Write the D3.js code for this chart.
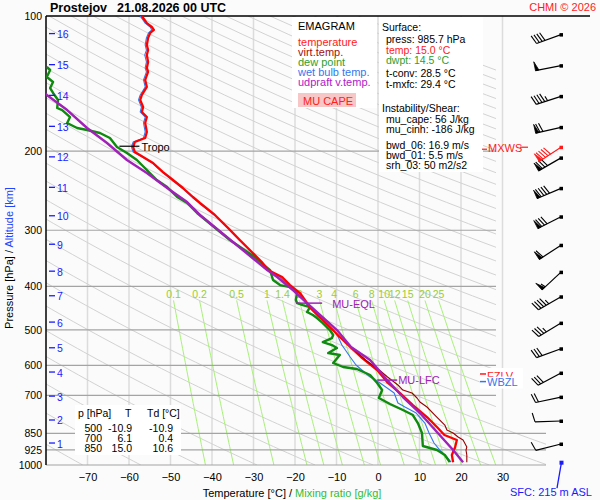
<!DOCTYPE html>
<html><head><meta charset="utf-8">
<script src="https://cdn.jsdelivr.net/npm/d3@7"></script>
<style>
body{margin:0;background:#fbfbfb;}
svg{display:block;font-family:"Liberation Sans",Arial,sans-serif;}
</style></head><body><svg id="c" width="600" height="500"></svg>
<script>
// ---------------- DATA ----------------
const tempP = [100,103.7,105.8,107.4,109.1,111.9,116,119.1,122.1,126.6,130.5,133.2,138.8,143.9,149.9,153.8,159.5,163.6,167.9,173.1,181.3,186.9,190.8,195.8,200.9,206.1,212.5,222.6,231.9,241.6,253,260.9,277.4,296.6,315.4,335.4,353.1,368,381.4,397.4,414,444.9,468.3,492.9,518.8,546.1,574.8,614.4,653.4,691.3,735.2,781.9,823,857.5,879.7,911.9,950,985.7];
const tempT = [-56.9,-55.7,-54.5,-54.0,-54.9,-55.4,-55.7,-55.4,-55.7,-55.4,-55.7,-55.4,-56.1,-55.7,-56.9,-57.3,-56.6,-56.9,-55.7,-56.1,-55.7,-56.1,-58.6,-59.0,-58.6,-56.6,-54.2,-51.8,-49.4,-47.0,-44.6,-42.9,-39.3,-36.1,-33.3,-30.4,-28.0,-26.5,-23.1,-21.2,-18.8,-16.4,-14.0,-11.6,-9.2,-6.7,-4.1,-0.2,2.2,5.3,8.4,11.8,14.2,16.0,19.0,18.6,17.8,18.1];

const virtP = [546.1,583.7,614.4,636.8,663.5,680.8,691.3,709.2,723.9,742.7,773.9,814.6,835.8,848.7,866.3,879.7,911.9,926.1,950,985.7];
const virtT = [-6.4,-3.0,0.3,2.3,4.8,6.0,8.2,9.4,10.1,11.8,13.7,16.1,16.6,18.1,19.3,20.5,21.4,21.2,21.4,21.4];

const dewP = [129.9,131.9,136.7,140.3,144.7,148.4,153.8,160.3,162.0,167.9,173.1,177.6,179.4,182.2,186.9,195.8,201.9,209.3,220.3,231.9,240.4,253.0,260.9,274.6,315.4,340.6,368.0,387.3,397.4,401.5,414.0,429.1,435.8,440.3,444.9,456.4,463.5,470.7,482.9,500.5,513.5,521.5,532.3,540.5,548.9,563.2,568.9,592.7,605.0,611.3,630.4,656.8,680.8,709.2,731.4,754.3,773.9,806.3,848.7,907.2,926.1,950.0,985.7];
const dewT = [-79.8,-79.0,-79.8,-78.3,-79.0,-78.3,-77.1,-77.3,-76.1,-74.2,-74.9,-72.5,-70.1,-67.0,-64.6,-62.9,-60.5,-58.1,-55.7,-53.3,-50.8,-48.4,-46.0,-43.6,-35.7,-30.4,-26.0,-25.3,-23.6,-21.2,-19.5,-19.8,-19.5,-18.1,-16.4,-17.1,-15.7,-14.7,-13.3,-11.6,-10.8,-11.1,-13.3,-11.1,-9.9,-12.0,-9.2,-10.8,-8.4,-5.1,-1.9,-0.2,1.0,0.2,2.9,6.0,8.4,9.6,10.6,10.8,14.2,16.1,17.3];

const wetP = [100,103.7,105.8,107.4,109.1,111.9,116,119.1,122.1,126.6,130.5,133.2,138.8,143.9,149.9,153.8,159.5,163.6,167.9,173.1,181.3,186.9,190.8,195.8,200.9,206.1,212.5,222.6,231.9,241.6,253,260.9,277.4,296.6,315.4,335.4,353.1,368,381.4,397.4,414,444.9,468.3,500.5,518.8,540.5,574.8,598.9,614.4,636.8,656.8,691.3,727.6,742.7,766.0,806.3,848.7,893.3,926.1,955.0,985.7];
const wetT = [-57.3,-56.1,-54.9,-54.5,-55.3,-55.8,-56.1,-55.8,-56.2,-55.8,-56.1,-55.8,-56.5,-56.1,-57.3,-57.7,-57.0,-57.3,-56.1,-56.5,-56.1,-56.5,-59.0,-59.4,-59.0,-56.8,-54.4,-52.0,-49.6,-47.2,-44.8,-43.1,-39.5,-36.3,-33.5,-30.6,-28.2,-26.7,-23.6,-21.5,-19.1,-16.7,-14.3,-10.8,-9.6,-8.7,-6.7,-5.3,-3.9,-1.9,0.5,3.9,4.8,6.5,9.2,11.3,12.3,13.5,14.9,16.4,17.6];

const parcelP = [145,149.9,162.0,177.6,191.8,209.3,223.7,241.6,259.6,277.4,368.0,381.4,407.7,435.8,500.5,546.1,583.7,646.7,705.6,766.0,844.4,926.1,985.7];
const parcelT = [-81.5,-79.8,-74.9,-70.1,-65.3,-60.5,-55.7,-50.8,-46.0,-42.9,-26.7,-24.3,-20.5,-17.1,-9.9,-6.5,-1.9,2.2,6.0,10.1,14.2,18.1,20.5];

const tempTicks = [-70,-60,-50,-40,-30,-20,-10,0,10,20,30];
const pressTicks = [100,200,300,400,500,600,700,850,925,1000];
const mixRatios = [0.1,0.2,0.5,1,1.4,2,3,4,6,8,10,12,15,20,25];
const mixLabels = ["0.1","0.2","0.5","1","1.4","2","3","4","6","8","10","12","15","20","25"];
const adiabatTheta = d3.range(160, 720, 14);

const altKm = [1,2,3,4,5,6,7,8,9,10,11,12,13,14,15,16];
const altP  = [898,798,706,624,551,483,422,372,324,280,242,207,177,151,129,110];
const windDir = [256,268,258,242,250,239,240,227,237,243,247,240,257,252,259,250];
const windSpd = [10,10,20,30,30,35,45,55,60,80,90,80,70,45,50,40];
const maxWind = {p:196, dir:237, spd:90};

const surfaceInfo = ["press: 985.7 hPa","temp: 15.0 °C","dwpt: 14.5 °C","t-conv: 28.5 °C","t-mxfc: 29.4 °C"];
const shearInfo = ["mu_cape: 56 J/kg","mu_cinh: -186 J/kg","bwd_06: 16.9 m/s","bwd_01: 5.5 m/s","srh_03: 50 m2/s2"];
const tableP = ["500","700","850"], tableT = ["-10.9","6.1","15.0"], tableTd = ["-10.9","0.4","10.6"];
const levels = {tropo:195, eql:436, lfc:647, fzlv:627, wbzl:652, sfc:985.7};

// ---------------- SCALES ----------------
const svg = d3.select("#c");
const x = d3.scaleLinear().domain([-80, 40]).range([46, 544]);
const y = d3.scaleLog().domain([100, 1000]).range([16, 465]);
const X0 = 46, XR = 496, XR2 = 546;

const defs = svg.append("defs");
defs.append("clipPath").attr("id","plot").append("rect").attr("x",46).attr("y",16).attr("width",500).attr("height",449);
defs.append("clipPath").attr("id","adi").append("polygon")
  .attr("points",`46,16 ${XR},16 ${XR},426 ${XR2},426 ${XR2},465 46,465`);

// vertical temperature grid
svg.append("g").selectAll("line").data(tempTicks).join("line")
  .attr("x1",d=>x(d)).attr("x2",d=>x(d)).attr("y1",y(100)).attr("y2",y(1000))
  .attr("stroke","#dcdcdc").attr("stroke-width",1.5);

// dry adiabats
const pSteps = d3.range(100, 1001, 10);
const lineTP = d3.line().x(d=>x(d[1])).y(d=>y(d[0]));
svg.append("g").attr("clip-path","url(#adi)").selectAll("path").data(adiabatTheta).join("path")
  .attr("d",th=>lineTP(pSteps.map(p=>[p, th*Math.pow(p/1000,0.42)-273.15])))
  .attr("fill","none").attr("stroke","#d2d2d2").attr("stroke-width",1);

// mixing ratio lines
function tdFromW(w,p){const e=w*p/(622+w);const l=Math.log(e/6.112);return 243.5*l/(17.67-l);}
const mixG = svg.append("g");
mixG.selectAll("path").data(mixRatios).join("path")
  .attr("d",w=>lineTP(d3.range(430,1001,10).map(p=>[p,tdFromW(w,p)])))
  .attr("fill","none").attr("stroke","#a8f078").attr("stroke-width",1);
mixG.selectAll("text").data(mixRatios).join("text")
  .attr("x",w=>x(tdFromW(w,430))).attr("y",y(430)-2)
  .attr("text-anchor","middle").attr("font-size",10.5).attr("fill","#9acd32")
  .text((w,i)=>mixLabels[i]);

// isobars
svg.append("g").selectAll("line").data(pressTicks.filter(p=>p>100)).join("line")
  .attr("x1",X0).attr("x2",p=>p>=850?XR2:XR).attr("y1",p=>y(p)).attr("y2",p=>y(p))
  .attr("stroke","#a4a4a4").attr("stroke-width",1.2);

// frame
svg.append("line").attr("x1",46).attr("x2",590).attr("y1",y(100)).attr("y2",y(100)).attr("stroke","#000").attr("stroke-width",1.5);
svg.append("line").attr("x1",46).attr("x2",46).attr("y1",y(100)).attr("y2",y(1000)).attr("stroke","#000").attr("stroke-width",1.5);

// legend box
svg.append("rect").attr("x",292).attr("y",17).attr("width",85).attr("height",91).attr("fill","#fff");
const leg = svg.append("g").attr("font-size",11);
leg.append("text").attr("x",298).attr("y",30).text("EMAGRAM").attr("fill","#000");
[["temperature","#ff1a1a"],["virt.temp.","#a01010"],["dew point","#2ea02e"],["wet bulb temp.","#3377ee"],["udpraft v.temp.","#b020c8"]]
 .forEach((d,i)=>leg.append("text").attr("x",298).attr("y",46+i*10).attr("fill",d[1]).text(d[0]));
leg.append("rect").attr("x",298).attr("y",93).attr("width",58).attr("height",14).attr("fill","#f7c6c6");
leg.append("text").attr("x",303).attr("y",104.5).attr("fill","#ff2020").text("MU CAPE");

// surface box
svg.append("rect").attr("x",379).attr("y",17).attr("width",104).attr("height",155).attr("fill","#fff");
const sb = svg.append("g").attr("font-size",10.5).attr("fill","#000");
sb.append("text").attr("x",382).attr("y",31).text("Surface:");
const sfY=[43,54,64,77,88], sfC=["#000","#ff1a1a","#2ea02e","#000","#000"];
surfaceInfo.forEach((t,i)=>sb.append("text").attr("x",386).attr("y",sfY[i]).attr("fill",sfC[i]).text(t));
sb.append("text").attr("x",382).attr("y",112).text("Instability/Shear:");
const shY=[123,133,149,159,169];
shearInfo.forEach((t,i)=>sb.append("text").attr("x",386).attr("y",shY[i]).text(t));

// left table
svg.append("rect").attr("x",75).attr("y",405).attr("width",106).attr("height",50).attr("fill","#fff");
const tb = svg.append("g").attr("font-size",10.5).attr("fill","#000");
tb.append("text").attr("x",78).attr("y",417).text("p [hPa]");
tb.append("text").attr("x",125).attr("y",417).text("T");
tb.append("text").attr("x",147).attr("y",417).text("Td [°C]");
tableP.forEach((v,i)=>{
  const yy=432+i*10;
  tb.append("text").attr("x",102).attr("y",yy).attr("text-anchor","end").text(v);
  tb.append("text").attr("x",132).attr("y",yy).attr("text-anchor","end").text(tableT[i]);
  tb.append("text").attr("x",173).attr("y",yy).attr("text-anchor","end").text(tableTd[i]);
});

// ---------------- CURVES ----------------
const curveG = svg.append("g").attr("clip-path","url(#plot)");
function draw(P,T,color,w){
  curveG.append("path").attr("d",lineTP(P.map((p,i)=>[p,T[i]])))
   .attr("fill","none").attr("stroke",color).attr("stroke-width",w).attr("stroke-linejoin","round");
}
draw(wetP,wetT,"#3377ee",1.1);
draw(dewP,dewT,"#0e8a0e",2.4);
draw(tempP,tempT,"#ff0000",2.3);
draw(virtP,virtT,"#9a0000",1.1);
draw(parcelP,parcelT,"#a020b8",2.4);

// markers
function interpT(P,T,p){for(let i=0;i<P.length-1;i++){if(p>=P[i]&&p<=P[i+1]){const f=Math.log(p/P[i])/Math.log(P[i+1]/P[i]);return T[i]+f*(T[i+1]-T[i]);}}return T[T.length-1];}
const mk = svg.append("g").attr("font-size",11);
const trX = x(interpT(tempP,tempT,levels.tropo));
mk.append("line").attr("x1",trX-14).attr("x2",trX+6).attr("y1",y(levels.tropo)).attr("y2",y(levels.tropo)).attr("stroke","#000").attr("stroke-width",1.2);
mk.append("text").attr("x",trX+8).attr("y",y(levels.tropo)+4.5).text("Tropo");
const eqX = x(interpT(parcelP,parcelT,levels.eql));
mk.append("line").attr("x1",eqX-11).attr("x2",eqX+15).attr("y1",y(levels.eql)).attr("y2",y(levels.eql)).attr("stroke","#a020b8").attr("stroke-width",1.5);
mk.append("text").attr("x",eqX+25).attr("y",y(levels.eql)+5).attr("fill","#a020b8").text("MU-EQL");
const lfX = x(interpT(parcelP,parcelT,levels.lfc));
mk.append("line").attr("x1",lfX-10).attr("x2",lfX+10).attr("y1",y(levels.lfc)).attr("y2",y(levels.lfc)).attr("stroke","#a020b8").attr("stroke-width",1.5);
mk.append("text").attr("x",lfX+11).attr("y",y(levels.lfc)+4).attr("fill","#a020b8").text("MU-LFC");

// FZLV / WBZL / MXWS labels
const lb = svg.append("g").attr("font-size",11);
lb.append("rect").attr("x",480).attr("y",y(levels.fzlv)-6).attr("width",43).attr("height",11).attr("fill","#fff");
lb.append("line").attr("x1",480).attr("x2",486).attr("y1",y(levels.fzlv)).attr("y2",y(levels.fzlv)).attr("stroke","#ff1a1a").attr("stroke-width",1.5);
lb.append("text").attr("x",487).attr("y",y(levels.fzlv)+6).attr("fill","#ff1a1a").text("FZLV");
lb.append("rect").attr("x",480).attr("y",y(levels.wbzl)-5).attr("width",43).attr("height",12).attr("fill","#fff");
lb.append("line").attr("x1",480).attr("x2",486).attr("y1",y(levels.wbzl)).attr("y2",y(levels.wbzl)).attr("stroke","#3377ee").attr("stroke-width",1.5);
lb.append("text").attr("x",487).attr("y",y(levels.wbzl)+4.5).attr("fill","#3377ee").text("WBZL");
const mxY = y(maxWind.p);
lb.append("line").attr("x1",482).attr("x2",487).attr("y1",mxY+2).attr("y2",mxY+2).attr("stroke","#ff1a1a").attr("stroke-width",1.2);
lb.append("text").attr("x",488).attr("y",mxY+5).attr("fill","#ff1a1a").text("MXWS");
lb.append("line").attr("x1",520).attr("x2",528).attr("y1",mxY).attr("y2",mxY).attr("stroke","#ff1a1a").attr("stroke-width",1.2);

// ---------------- AXES ----------------
const ax = svg.append("g").attr("transform",`translate(0,${y(1000)})`)
  .call(d3.axisBottom(x).tickValues(tempTicks).tickSize(0).tickPadding(8).tickFormat(d3.format("d")));
ax.select(".domain").remove();
ax.selectAll("text").attr("font-size",11).attr("font-family","Liberation Sans,Arial,sans-serif").attr("fill","#000");
const ay = svg.append("g").attr("transform",`translate(46,0)`)
  .call(d3.axisLeft(y).tickValues(pressTicks).tickSize(0).tickPadding(4).tickFormat(d3.format("d")));
ay.select(".domain").remove();
ay.selectAll("text").attr("font-size",10.5).attr("font-family","Liberation Sans,Arial,sans-serif").attr("fill","#000");

// altitude ticks
const altG = svg.append("g");
altG.selectAll("line").data(altP).join("line")
  .attr("x1",49).attr("x2",55).attr("y1",p=>y(p)-1).attr("y2",p=>y(p)-1).attr("stroke","#1a1aff").attr("stroke-width",1.3);
altG.selectAll("text").data(altP).join("text")
  .attr("x",57).attr("y",p=>y(p)+3.5).attr("font-size",10.5).attr("fill","#1a1aff").text((p,i)=>altKm[i]);

// titles
svg.append("text").attr("x",50).attr("y",12).attr("font-size",12.5).attr("font-weight","bold").text("Prostejov");
svg.append("text").attr("x",117).attr("y",12).attr("font-size",12.5).attr("font-weight","bold").text("21.08.2026 00 UTC");
svg.append("text").attr("x",596).attr("y",11).attr("font-size",11).attr("text-anchor","end").attr("fill","#ff1a1a").text("CHMI © 2026");
const bt = svg.append("text").attr("x",292).attr("y",497).attr("font-size",11).attr("text-anchor","middle");
bt.append("tspan").attr("fill","#000").text("Temperature [°C]  /  ");
bt.append("tspan").attr("fill","#33bb33").text("Mixing ratio [g/kg]");
const lt = svg.append("text").attr("transform","translate(13,258) rotate(-90)").attr("font-size",11).attr("text-anchor","middle");
lt.append("tspan").attr("fill","#000").text("Pressure [hPa]  /  ");
lt.append("tspan").attr("fill","#2244ff").text("Altitude [km]");

// ---------------- WIND BARBS ----------------
const BX = 561;
function barb(g, cy, dir, spd, color){
  const r = dir*Math.PI/180, ux=Math.sin(r), uy=-Math.cos(r), nx=-uy, ny=ux;
  const L=26, ex=BX+ux*L, ey=cy+uy*L;
  g.append("line").attr("x1",BX).attr("y1",cy).attr("x2",ex).attr("y2",ey).attr("stroke",color).attr("stroke-width",1.2);
  g.append("rect").attr("x",BX-1.5).attr("y",cy-1.5).attr("width",3.5).attr("height",3.5).attr("fill",color);
  let rem = Math.round(spd/5)*5, pos=0;
  while(rem>=50){
    const ax1=ex-ux*pos, ay1=ey-uy*pos, bx=ex-ux*(pos+3.5), by=ey-uy*(pos+3.5);
    g.append("polygon").attr("points",`${ax1},${ay1} ${bx},${by} ${ax1+nx*9},${ay1+ny*9}`).attr("fill",color).attr("stroke",color).attr("stroke-width",0.8);
    pos+=4.5; rem-=50;
  }
  while(rem>=10){
    const bx=ex-ux*pos, by=ey-uy*pos;
    g.append("line").attr("x1",bx).attr("y1",by).attr("x2",bx+nx*9+ux*2.5).attr("y2",by+ny*9+uy*2.5).attr("stroke",color).attr("stroke-width",1.1);
    pos+=3; rem-=10;
  }
  if(rem>=5){
    const bx=ex-ux*pos, by=ey-uy*pos;
    g.append("line").attr("x1",bx).attr("y1",by).attr("x2",bx+nx*5+ux*1.3).attr("y2",by+ny*5+uy*1.3).attr("stroke",color).attr("stroke-width",1.1);
  }
}
const wg = svg.append("g");
altP.forEach((p,i)=>barb(wg, y(p), windDir[i], windSpd[i], "#000"));
barb(wg, y(maxWind.p), maxWind.dir, maxWind.spd, "#ff1a1a");
const sy = y(levels.sfc);
wg.append("line").attr("x1",BX+0.5).attr("y1",sy).attr("x2",BX-4).attr("y2",sy+26).attr("stroke","#1a1aff").attr("stroke-width",1.3);
wg.append("rect").attr("x",BX-1.5).attr("y",sy-1.5).attr("width",4).attr("height",4).attr("fill","#1a1aff");
svg.append("text").attr("x",551).attr("y",496).attr("font-size",11).attr("text-anchor","middle").attr("fill","#1a1aff").text("SFC: 215 m ASL");
</script></body></html>
